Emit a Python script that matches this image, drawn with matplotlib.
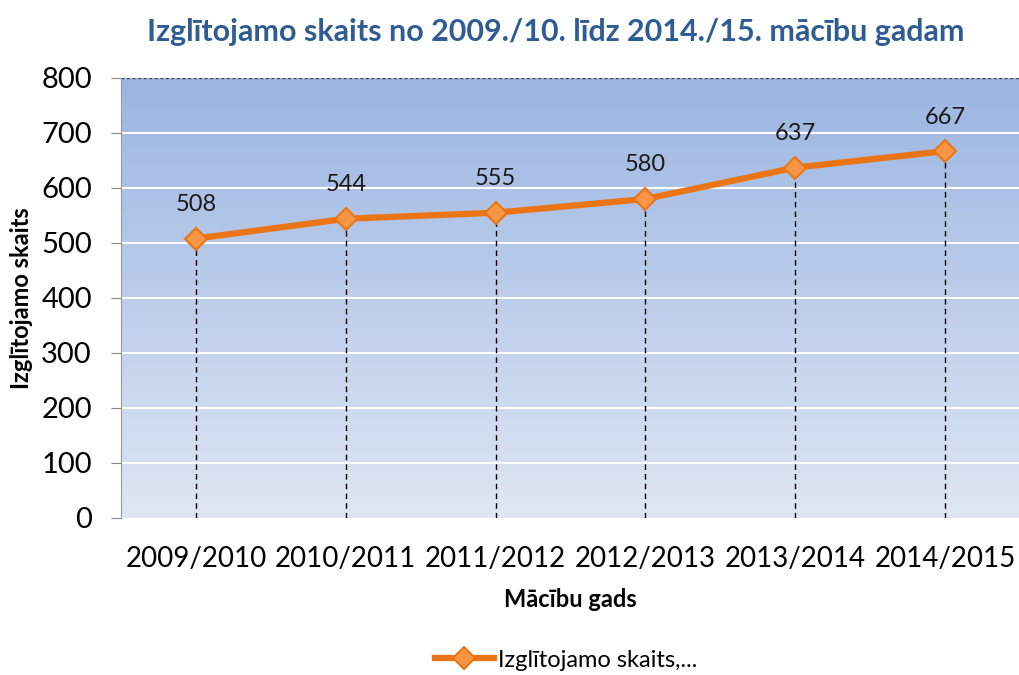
import numpy as np
import matplotlib
matplotlib.use('Agg')
import matplotlib.pyplot as plt
from matplotlib.colors import LinearSegmentedColormap

plt.rcParams['font.family'] = ['Lato', 'DejaVu Sans']

years = ['2009/2010', '2010/2011', '2011/2012', '2012/2013', '2013/2014', '2014/2015']
students = [508, 544, 555, 580, 637, 667]
yticks = [0, 100, 200, 300, 400, 500, 600, 700, 800]

fig = plt.figure(figsize=(10.2, 6.75), dpi=100)
ax = fig.add_axes([0.1186, 0.2326, 0.8814, 0.6519])

# gradient background
cmap = LinearSegmentedColormap.from_list('bg', ['#dfe6f4', '#9bb5e1'])
grad = np.linspace(0, 1, 256).reshape(-1, 1)
ax.imshow(grad, cmap=cmap, aspect='auto', extent=[-0.5, 5.5, 0, 800],
          origin='lower', zorder=0)

x = np.arange(len(years))
ax.set_xlim(-0.5, 5.5)
ax.set_ylim(0, 800)

for yv in yticks[1:-1]:
    ax.axhline(yv, color='white', lw=1.5, zorder=1)
ax.axhline(800, color='#404040', lw=1, ls=(0, (2, 2)), zorder=1)

# drop lines
ax.vlines(x, 0, students, colors='black', lw=1, linestyles=(0, (4, 3)), zorder=2)

ax.plot(x, students, color='#eb7514', lw=4.5, marker='D', markersize=11,
        markerfacecolor='#f79646', markeredgecolor='#eb7514', markeredgewidth=1.5,
        zorder=3, label='Izglītojamo skaits,...')

for xi, v in zip(x, students):
    ax.annotate(str(v), (xi, v), xytext=(0, 17), textcoords='offset points',
                ha='center', va='bottom', fontsize=17, color='#1a1a1a')

ax.set_yticks(yticks)
ax.set_xticks(x)
ax.set_xticklabels(years)
ax.tick_params(axis='y', labelsize=21, length=7, color='#888888', pad=14)
ax.tick_params(axis='x', labelsize=20, length=0, pad=20)

for s in ['top', 'right', 'bottom']:
    ax.spines[s].set_visible(False)
ax.spines['left'].set_color('#999999')

ax.set_ylabel('Izglītojamo skaits', fontsize=17, fontweight='bold', labelpad=6)
ax.set_xlabel('Mācību gads', fontsize=17, fontweight='bold', labelpad=12)

fig.text(0.545, 0.953, 'Izglītojamo skaits no 2009./10. līdz 2014./15. mācību gadam',
         ha='center', va='center', fontsize=22, fontweight='bold', color='#2f5c94')

fig.legend(loc='center', bbox_to_anchor=(0.555, 0.022), frameon=False,
           fontsize=17, handlelength=2.5, handletextpad=0.2)

fig.savefig('out.png', dpi=100)
